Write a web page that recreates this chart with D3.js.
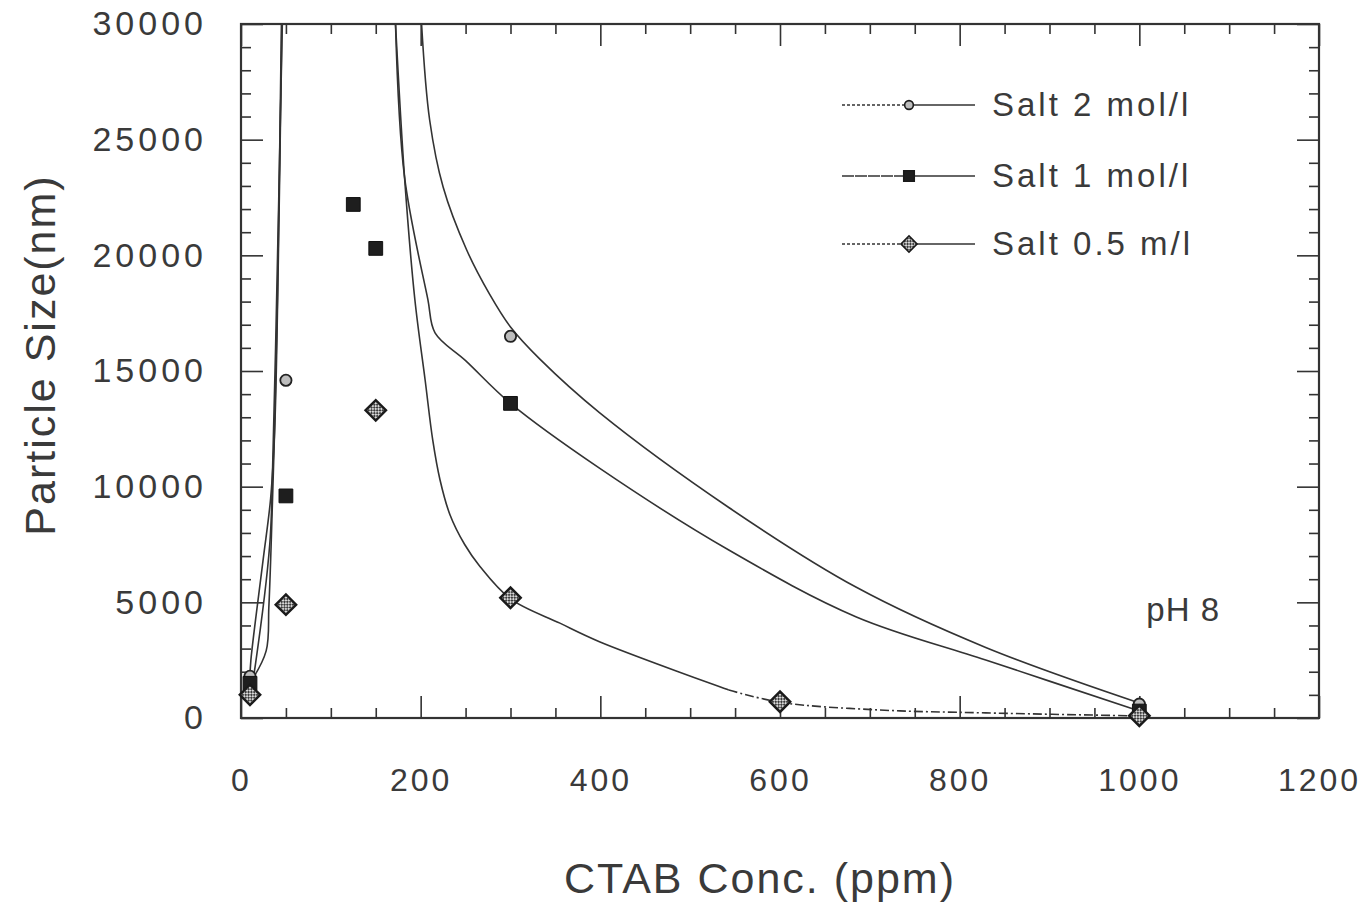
<!DOCTYPE html>
<html>
<head>
<meta charset="utf-8">
<script src="https://cdn.jsdelivr.net/npm/d3@7"></script>
<style>
  body { margin: 0; background: #fff; }
  svg text { font-family: "Liberation Sans", Arial, sans-serif; fill: #3a3a3a; }
</style>
</head>
<body>
<div id="chart"></div>
<script>
// measured points
const salt2 = [[10, 1800], [50, 14600], [300, 16500], [1000, 600]];
const salt1 = [[10, 1500], [50, 9600], [125, 22200], [150, 20300], [300, 13600], [1000, 300]];
const salt05 = [[10, 1000], [50, 4900], [150, 13300], [300, 5200], [600, 700], [1000, 100]];

// fitted curves (left branch rises past the top, right branch comes back down)
const fit2Left = [[10, 1800], [11, 2500], [24.5, 6800], [33, 9500], [37.5, 12500], [41, 18500], [45.5, 30000]];
const fit1Left = [[10, 1500], [28, 2900], [31, 4800], [33.5, 7400], [37, 11900], [40.5, 18000], [45, 30000]];
const fit05Left = [[10, 900], [16, 2300], [32, 7500], [35, 10500], [38.5, 16000], [46, 30000]];

const fit2Right = [[201, 30000], [210, 25850], [225, 22950], [251, 20250], [277, 18300], [300, 16900], [333, 15500],
    [399, 13200], [543, 9100], [685, 5650], [829, 3050], [1000, 650]];
const fit1Right = [[172, 30000], [182, 23400], [208, 18100], [216, 16650], [250, 15450], [300, 13600],
    [399, 10800], [543, 7260], [685, 4370], [829, 2510], [1000, 300]];
const fit05Solid = [[172, 30000], [182, 23400], [193.5, 18100], [205, 14600], [213.5, 12000], [221.5, 10300],
    [232.5, 8800], [249, 7500], [266, 6550], [300, 5150], [355, 4100], [399, 3300], [543, 1210]];
const fit05Dashed = [[543, 1210], [600, 680], [709, 350], [829, 220], [1000, 90]];

const xTicks = [0, 200, 400, 600, 800, 1000, 1200];
const yTicks = [0, 5000, 10000, 15000, 20000, 25000, 30000];
const legendLabels = ["Salt 2 mol/l", "Salt 1 mol/l", "Salt 0.5 m/l"];

const W = 1365, H = 907;
const margin = {top: 24, right: 46, bottom: 189, left: 241};
const width = W - margin.left - margin.right;
const height = H - margin.top - margin.bottom;
const ink = "#333";

const svg = d3.select("#chart").append("svg")
    .attr("width", W)
    .attr("height", H);

const defs = svg.append("defs");
defs.append("clipPath").attr("id", "plotClip")
    .append("rect").attr("width", width).attr("height", height);

let checker = defs.append("pattern")
    .attr("id", "checker")
    .attr("width", 4).attr("height", 4)
    .attr("patternUnits", "userSpaceOnUse");
checker.append("rect").attr("width", 4).attr("height", 4).attr("fill", "#3c3c3c");
checker.append("rect").attr("x", 0).attr("y", 0).attr("width", 2).attr("height", 2).attr("fill", "#d8d8d8");
checker.append("rect").attr("x", 2).attr("y", 2).attr("width", 2).attr("height", 2).attr("fill", "#d8d8d8");

const g = svg.append("g").attr("transform", `translate(${margin.left},${margin.top})`);

const x = d3.scaleLinear().domain([0, 1200]).range([0, width]);
const y = d3.scaleLinear().domain([0, 30000]).range([height, 0]);

const minorX = d3.range(0, 1201, 50).filter(v => v % 200 !== 0);
const minorY = d3.range(0, 30001, 1000).filter(v => v % 5000 !== 0);

// ticks point inward on all four sides
function styleAxis(sel) {
    sel.select(".domain").remove();
    sel.selectAll(".tick line").attr("stroke", ink).attr("stroke-width", 1.6);
}

g.append("g").attr("transform", `translate(0,${height})`)
    .call(d3.axisBottom(x).tickValues(xTicks).tickSize(-22).tickPadding(50).tickFormat(d3.format("d")))
    .call(styleAxis)
    .selectAll("text").attr("font-size", 32).attr("letter-spacing", 3).attr("fill", "#3a3a3a");
g.append("g").attr("transform", `translate(0,${height})`)
    .call(d3.axisBottom(x).tickValues(minorX).tickSize(-10).tickFormat(""))
    .call(styleAxis);
g.append("g")
    .call(d3.axisTop(x).tickValues(xTicks).tickSize(-22).tickFormat(""))
    .call(styleAxis);
g.append("g")
    .call(d3.axisTop(x).tickValues(minorX).tickSize(-10).tickFormat(""))
    .call(styleAxis);

g.append("g")
    .call(d3.axisLeft(y).tickValues(yTicks).tickSize(-22).tickPadding(34).tickFormat(d3.format("d")))
    .call(styleAxis)
    .selectAll("text").attr("font-size", 34).attr("letter-spacing", 4).attr("fill", "#3a3a3a");
g.append("g")
    .call(d3.axisLeft(y).tickValues(minorY).tickSize(-10).tickFormat(""))
    .call(styleAxis);
g.append("g").attr("transform", `translate(${width},0)`)
    .call(d3.axisRight(y).tickValues(yTicks).tickSize(-22).tickFormat(""))
    .call(styleAxis);
g.append("g").attr("transform", `translate(${width},0)`)
    .call(d3.axisRight(y).tickValues(minorY).tickSize(-10).tickFormat(""))
    .call(styleAxis);

g.append("rect")
    .attr("width", width).attr("height", height)
    .attr("fill", "none").attr("stroke", ink).attr("stroke-width", 2.2);

// curves
const line = d3.line()
    .x(d => x(d[0]))
    .y(d => y(d[1]))
    .curve(d3.curveCatmullRom.alpha(0.5));

const curves = g.append("g").attr("clip-path", "url(#plotClip)")
    .attr("fill", "none").attr("stroke", ink).attr("stroke-width", 1.6);

[fit2Left, fit1Left, fit05Left, fit2Right, fit1Right, fit05Solid].forEach(c => {
    curves.append("path").attr("d", line(c));
});
curves.append("path")
    .attr("d", line(fit05Dashed))
    .attr("stroke-dasharray", "9,3,2,3");

// markers
const circleSym = d3.symbol().type(d3.symbolCircle).size(100);
const squareSym = d3.symbol().type(d3.symbolSquare).size(190);
const diamondSym = d3.symbol().type(d3.symbolSquare).size(210);

const marks = g.append("g");

marks.selectAll(".m2").data(salt2).join("path")
    .attr("class", "m2")
    .attr("d", circleSym)
    .attr("transform", d => `translate(${x(d[0])},${y(d[1])})`)
    .attr("fill", "#bdbdbd").attr("stroke", "#222").attr("stroke-width", 1.8);

marks.selectAll(".m1").data(salt1).join("path")
    .attr("class", "m1")
    .attr("d", squareSym)
    .attr("transform", d => `translate(${x(d[0])},${y(d[1])})`)
    .attr("fill", "#1e1e1e").attr("stroke", "#111").attr("stroke-width", 1);

marks.selectAll(".m05").data(salt05).join("path")
    .attr("class", "m05")
    .attr("d", diamondSym)
    .attr("transform", d => `translate(${x(d[0])},${y(d[1])}) rotate(45)`)
    .attr("fill", "url(#checker)").attr("stroke", "#1a1a1a").attr("stroke-width", 2.4);

// legend
const legend = svg.append("g").attr("transform", "translate(842,105)");
const legendSyms = [
    {d: d3.symbol().type(d3.symbolCircle).size(60)(), fill: "#bdbdbd", rot: 0, dash: "3,2"},
    {d: d3.symbol().type(d3.symbolSquare).size(110)(), fill: "#1e1e1e", rot: 0, dash: "12,1"},
    {d: d3.symbol().type(d3.symbolSquare).size(130)(), fill: "url(#checker)", rot: 45, dash: "3,2"}
];
const rowY = [0, 71, 139];

legendLabels.forEach((label, i) => {
    let row = legend.append("g").attr("transform", `translate(0,${rowY[i]})`);
    row.append("line").attr("x1", 0).attr("x2", 62).attr("y1", 0).attr("y2", 0)
        .attr("stroke", ink).attr("stroke-width", 1.4).attr("stroke-dasharray", legendSyms[i].dash);
    row.append("line").attr("x1", 72).attr("x2", 133).attr("y1", 0).attr("y2", 0)
        .attr("stroke", ink).attr("stroke-width", 1.4);
    row.append("path").attr("d", legendSyms[i].d)
        .attr("transform", `translate(67,0) rotate(${legendSyms[i].rot})`)
        .attr("fill", legendSyms[i].fill).attr("stroke", "#1a1a1a").attr("stroke-width", 1.6);
    row.append("text").attr("x", 150).attr("y", 11)
        .attr("font-size", 33).attr("letter-spacing", 3)
        .text(label);
});

g.append("text")
    .attr("x", x(1000) + 7).attr("y", y(4000) - 4)
    .attr("font-size", 33).attr("letter-spacing", 1)
    .text("pH 8");

// axis titles
svg.append("text")
    .attr("x", margin.left + width / 2 - 20).attr("y", 893)
    .attr("text-anchor", "middle")
    .attr("font-size", 43).attr("letter-spacing", 2)
    .text("CTAB Conc. (ppm)");

svg.append("text")
    .attr("transform", "translate(55,355) rotate(-90)")
    .attr("text-anchor", "middle")
    .attr("font-size", 43).attr("letter-spacing", 2)
    .text("Particle Size(nm)");
</script>
</body>
</html>
